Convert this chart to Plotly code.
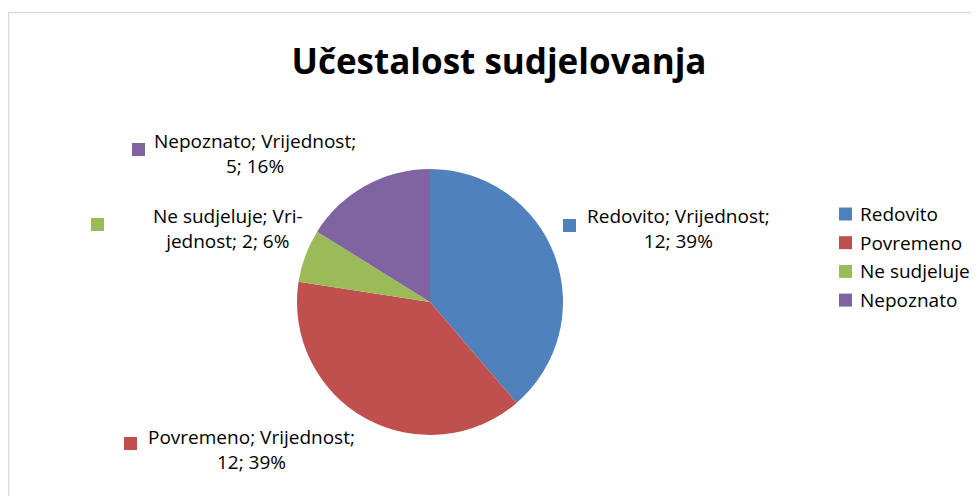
import plotly.graph_objects as go

W, H = 979, 496
OFF = 8  # page body margin in the browser

# ── Data ──────────────────────────────────────────────────────────────────────
categories = ["Redovito", "Povremeno", "Ne sudjeluje", "Nepoznato"]
values = [12, 12, 2, 5]
colors = ["#4F81BD", "#C0504D", "#9BBB59", "#8064A2"]
label_texts = [
    "Redovito; Vrijednost;<br>12; 39%",
    "Povremeno; Vrijednost;<br>12; 39%",
    "Ne sudjeluje; Vri-<br>jednost; 2; 6%",
    "Nepoznato; Vrijednost;<br>5; 16%",
]

FONT = "Open Sans, Calibri, sans-serif"
TXT = "#000000"

# label layout (screen pixels: text centre, square left/top)
label_pos = [
    dict(tx=678, ty=228, sx=563, sy=219),
    dict(tx=251, ty=449, sx=124, sy=437),
    dict(tx=228, ty=228, sx=91, sy=218),
    dict(tx=255, ty=153, sx=132, sy=143),
]
SQ = 13


def px(x):
    return (x - OFF) / W


def py(y):
    return 1 - (y - OFF) / H


fig = go.Figure(
    go.Pie(
        labels=categories,
        values=values,
        marker=dict(colors=colors, line=dict(width=0)),
        sort=False,
        direction="clockwise",
        rotation=0,
        textinfo="none",
        hoverinfo="label+value+percent",
        showlegend=False,
        domain=dict(x=[px(297), px(563)], y=[py(435), py(169)]),
    )
)

shapes = [
    # chart area border
    dict(type="rect", xref="paper", yref="paper",
         x0=px(8.5), y0=py(H + 30), x1=px(W + 30), y1=py(12.5),
         line=dict(color="#D9D9D9", width=1.5), fillcolor="rgba(0,0,0,0)"),
]
annotations = []

# ── Data labels with colour squares ──────────────────────────────────────────
for txt, col, p in zip(label_texts, colors, label_pos):
    shapes.append(dict(type="rect", xref="paper", yref="paper",
                       x0=px(p["sx"]), x1=px(p["sx"] + SQ),
                       y0=py(p["sy"] + SQ), y1=py(p["sy"]),
                       fillcolor=col, line=dict(width=0)))
    annotations.append(dict(text=txt, xref="paper", yref="paper",
                            x=px(p["tx"]), y=py(p["ty"]),
                            xanchor="center", yanchor="middle", align="center",
                            showarrow=False, font=dict(family=FONT, size=19, color=TXT)))

# ── Legend ────────────────────────────────────────────────────────────────────
for i, (cat, col) in enumerate(zip(categories, colors)):
    y = 214 + i * 28.7
    shapes.append(dict(type="rect", xref="paper", yref="paper",
                       x0=px(839), x1=px(839 + SQ),
                       y0=py(y + SQ / 2), y1=py(y - SQ / 2),
                       fillcolor=col, line=dict(width=0)))
    annotations.append(dict(text=cat, xref="paper", yref="paper",
                            x=px(858), y=py(y),
                            xanchor="left", yanchor="middle",
                            showarrow=False, font=dict(family=FONT, size=19, color=TXT)))

fig.update_layout(
    width=W,
    height=H,
    margin=dict(l=0, r=0, t=0, b=0),
    paper_bgcolor="white",
    plot_bgcolor="white",
    title=dict(text="<b>Učestalost sudjelovanja</b>", x=px(499), xanchor="center",
               y=py(62), yanchor="middle",
               font=dict(family=FONT, size=35, color=TXT)),
    shapes=shapes,
    annotations=annotations,
)

fig.write_html("out.html")
